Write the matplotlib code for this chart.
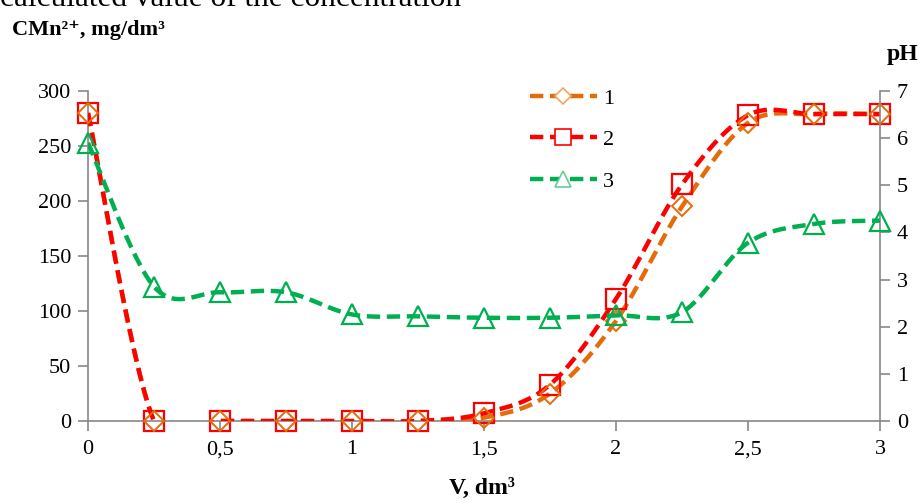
import numpy as np
import matplotlib
matplotlib.use("Agg")
import matplotlib.pyplot as plt
from matplotlib.lines import Line2D

# ---- data ----
volume = [0, 0.25, 0.5, 0.75, 1, 1.25, 1.5, 1.75, 2, 2.25, 2.5, 2.75, 3]
series1 = [280, 0, 0, 0, 0, 0, 3, 25, 91, 195, 271, 279, 279]        # CMn2+, mg/dm3
series2 = [280, 0, 0, 0, 0, 0, 7, 33, 111, 215, 278, 279, 279]       # CMn2+, mg/dm3
series3_ph = [5.90, 2.85, 2.73, 2.73, 2.26, 2.22, 2.19, 2.19, 2.24, 2.31, 3.78, 4.18, 4.25]  # pH
labels = ["1", "2", "3"]
x_ticks = [0, 0.5, 1, 1.5, 2, 2.5, 3]
x_ticklabels = ["0", "0,5", "1", "1,5", "2", "2,5", "3"]
left_ticks = [0, 50, 100, 150, 200, 250, 300]
right_ticks = [0, 1, 2, 3, 4, 5, 6, 7]

SERIF = ["Liberation Serif", "DejaVu Serif"]
plt.rcParams["font.family"] = SERIF


def smooth(xs, ys, n=30):
    """Excel-like smoothed line (Catmull-Rom Bezier) through the points."""
    xs = np.asarray(xs, float)
    ys = np.asarray(ys, float)
    P = np.column_stack([xs, ys])
    out = []
    for i in range(len(P) - 1):
        p0 = P[i - 1] if i > 0 else P[i]
        p1 = P[i]
        p2 = P[i + 1]
        p3 = P[i + 2] if i + 2 < len(P) else P[i + 1]
        c1 = p1 + (p2 - p0) / 6.0
        c2 = p2 - (p3 - p1) / 6.0
        t = np.linspace(0, 1, n)[:, None]
        seg = ((1 - t) ** 3) * p1 + 3 * ((1 - t) ** 2) * t * c1 + 3 * (1 - t) * t ** 2 * c2 + t ** 3 * p2
        out.append(seg if i == 0 else seg[1:])
    seg = np.vstack(out)
    return seg[:, 0], seg[:, 1]


fig = plt.figure(figsize=(9.21, 5.03), dpi=100)
W, H = 921, 503
ax = fig.add_axes([88 / W, 1 - 421 / H, (880 - 88) / W, (421 - 91) / H])
ax2 = ax.twinx()

c1, c2, c3 = "#E46C0A", "#FF0000", "#00B050"
lw = 3.2
dash = (3.0, 1.5)

for a in (ax, ax2):
    a.set_xlim(0, 3)
    a.patch.set_visible(False)

ax.set_ylim(0, 300)
ax2.set_ylim(0, 7)

sx, sy = smooth(volume, series1)
ax.plot(sx, sy, color=c1, lw=lw, dashes=dash, zorder=3)
sx, sy = smooth(volume, series2)
ax.plot(sx, sy, color=c2, lw=lw, dashes=dash, zorder=3)
ax.plot(volume, series2, ls="none", marker="s", ms=14, mfc="none", mec=c2, mew=1.6, clip_on=False, zorder=4)
ax.plot(volume, series1, ls="none", marker="D", ms=10, mfc="none", mec=c1, mew=1.4, clip_on=False, zorder=5)

sx, sy = smooth(volume, series3_ph)
ax2.plot(sx, sy, color=c3, lw=lw, dashes=dash, zorder=3)
ax2.plot(volume, series3_ph, ls="none", marker="^", ms=15, mfc="none", mec=c3, mew=1.6, clip_on=False, zorder=4)

# spines and ticks
grey = "#888888"
for a in (ax, ax2):
    a.spines["top"].set_visible(False)
    for s in ("left", "right", "bottom"):
        a.spines[s].set_color(grey)
        a.spines[s].set_linewidth(1.2)
ax.spines["right"].set_visible(False)
ax2.spines["left"].set_visible(False)
ax2.spines["bottom"].set_visible(False)

ax.set_xticks(x_ticks)
ax.set_xticklabels(x_ticklabels)
ax.set_yticks(left_ticks)
ax2.set_yticks(right_ticks)
ax.tick_params(axis="both", direction="out", length=7, width=1.2, color=grey, labelsize=16, pad=5)
ax.tick_params(axis="x", pad=7)
ax2.tick_params(axis="y", direction="out", length=7, width=1.2, color=grey, labelsize=16, pad=5)

# legend
handles = [
    Line2D([], [], color=c1, lw=lw, dashes=dash, marker="D", ms=8, mfc="white", mec="#F4A460", mew=1.2),
    Line2D([], [], color=c2, lw=lw, dashes=dash, marker="s", ms=11, mfc="white", mec=c2, mew=1.2),
    Line2D([], [], color=c3, lw=lw, dashes=dash, marker="^", ms=12, mfc="white", mec="#66CC99", mew=1.2),
]
leg = fig.legend(handles, labels, loc="upper left", bbox_to_anchor=(530 / W, 1 - 88 / H),
                 frameon=False, fontsize=16, handlelength=3.0, labelspacing=0.95, handletextpad=0.3,
                 borderpad=0, borderaxespad=0)

# texts
fig.text(0.0, 1 - 6 / H, "calculated value of the concentration", fontsize=22.5, ha="left", va="baseline")
fig.text(12 / W, 1 - 35 / H, "CMn²⁺, mg/dm³", fontsize=16, fontweight="bold", ha="left", va="baseline")
fig.text(887 / W, 1 - 60 / H, "pH", fontsize=17, fontweight="bold", ha="left", va="baseline")
fig.text(482 / W, 1 - 494 / H, "V, dm³", fontsize=17, fontweight="bold", ha="center", va="baseline")

fig.savefig("out.png", dpi=100)
